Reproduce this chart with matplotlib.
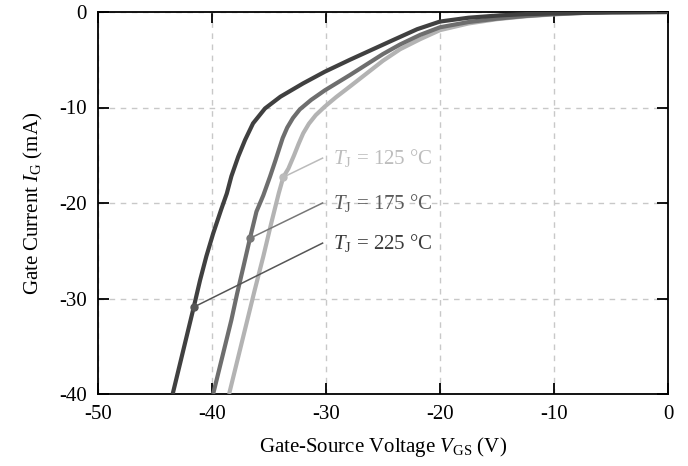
import matplotlib
matplotlib.use("Agg")
import matplotlib.pyplot as plt

plt.rcParams["font.family"] = ["Liberation Serif", "DejaVu Serif"]
plt.rcParams["mathtext.fontset"] = "custom"
plt.rcParams["mathtext.rm"] = "Liberation Serif"
plt.rcParams["mathtext.it"] = "Liberation Serif:italic"
plt.rcParams["axes.unicode_minus"] = False

# gate current vs gate-source voltage
v_125 = [0.0, -5.0, -7.5, -10.0, -12.5, -15.0, -17.5, -20.0, -21.75, -23.5, -25.0,
         -27.9, -29.1, -30.1, -30.9, -31.5, -32.0, -32.4, -32.8, -33.3, -33.75,
         -34.15, -34.8, -35.5, -36.25, -36.9, -38.5]
i_125 = [0.0, -0.04, -0.1, -0.25, -0.45, -0.75, -1.2, -1.9, -2.85, -3.9, -5.1,
         -7.8, -8.9, -9.9, -10.8, -11.7, -12.7, -13.8, -15.0, -16.4, -17.3,
         -19.0, -22.1, -25.6, -29.1, -32.25, -40.0]

v_175 = [0.0, -5.0, -7.5, -10.0, -12.5, -15.0, -17.5, -20.0, -21.75, -23.5, -25.0,
         -27.9, -30.1, -31.3, -32.3, -32.9, -33.4, -33.8, -34.1, -34.45, -34.9,
         -35.5, -36.1, -36.67, -37.25, -37.8, -38.3, -39.9]
i_175 = [0.0, -0.04, -0.1, -0.22, -0.42, -0.7, -1.05, -1.6, -2.4, -3.4, -4.4,
         -6.6, -8.2, -9.2, -10.2, -11.1, -12.1, -13.2, -14.3, -15.6, -17.2,
         -19.2, -20.9, -23.7, -26.7, -29.5, -32.25, -40.0]

v_225 = [0.0, -5.0, -7.5, -10.0, -12.5, -14.7, -17.5, -20.0, -22.0, -24.1, -27.9,
         -30.1, -32.0, -34.0, -35.35, -36.4, -37.1, -37.7, -38.3, -38.7, -39.2,
         -39.9, -40.5, -41.05, -41.6, -43.45]
i_225 = [0.0, -0.03, -0.08, -0.15, -0.22, -0.35, -0.6, -1.0, -1.8, -2.93, -5.0,
         -6.25, -7.47, -8.87, -10.1, -11.66, -13.4, -15.15, -17.2, -19.0, -20.7,
         -23.2, -25.6, -28.1, -30.9, -40.0]

labels = ["$T_\\mathrm{J}$ = 125 °C", "$T_\\mathrm{J}$ = 175 °C", "$T_\\mathrm{J}$ = 225 °C"]
mark_v = [-33.75, -36.67, -41.6]
mark_i = [-17.3, -23.7, -30.9]
label_i = [-15.3, -20.0, -24.2]
label_v = -29.4
line_end_v = -30.3

curve_colors = ["#b3b3b3", "#6e6e6e", "#404040"]
text_colors = ["#bdbdbd", "#5a5a5a", "#3a3a3a"]
ann_colors = ["#bbbbbb", "#777777", "#555555"]

fig = plt.figure(figsize=(6.88, 4.66), dpi=100)
ax = fig.add_axes([98 / 688, 1 - 394 / 466, 570 / 688, 382 / 466])

for v, i, c in zip([v_125, v_175, v_225], [i_125, i_175, i_225], curve_colors):
    ax.plot(v, i, color=c, lw=3.0, solid_capstyle="butt", solid_joinstyle="round",
            zorder=3)

for k in range(3):
    ax.plot([mark_v[k], line_end_v], [mark_i[k], label_i[k]], color=ann_colors[k],
            lw=1.1, zorder=4)
    ax.plot(mark_v[k], mark_i[k], "o", ms=5, color=ann_colors[k], zorder=5)
    ax.text(label_v, label_i[k], labels[k], color=text_colors[k], fontsize=15,
            va="center", ha="left", zorder=5)

ax.set_xlim(-50, 0)
ax.set_ylim(-40, 0)
ax.set_xticks([-50, -40, -30, -20, -10, 0])
ax.set_yticks([-40, -30, -20, -10, 0])
ax.grid(True, ls=(0, (4, 4)), color="#c8c8c8", lw=1.0)
ax.tick_params(direction="in", length=8, width=1.3, labelsize=15, pad=8,
               top=True, right=True)
for s in ax.spines.values():
    s.set_linewidth(1.3)

ax.set_xlabel("Gate-Source Voltage $V_\\mathrm{GS}$ (V)", fontsize=15, labelpad=8)
ax.set_ylabel("Gate Current $I_\\mathrm{G}$ (mA)", fontsize=15, labelpad=10)

fig.savefig("out.png", dpi=100)
